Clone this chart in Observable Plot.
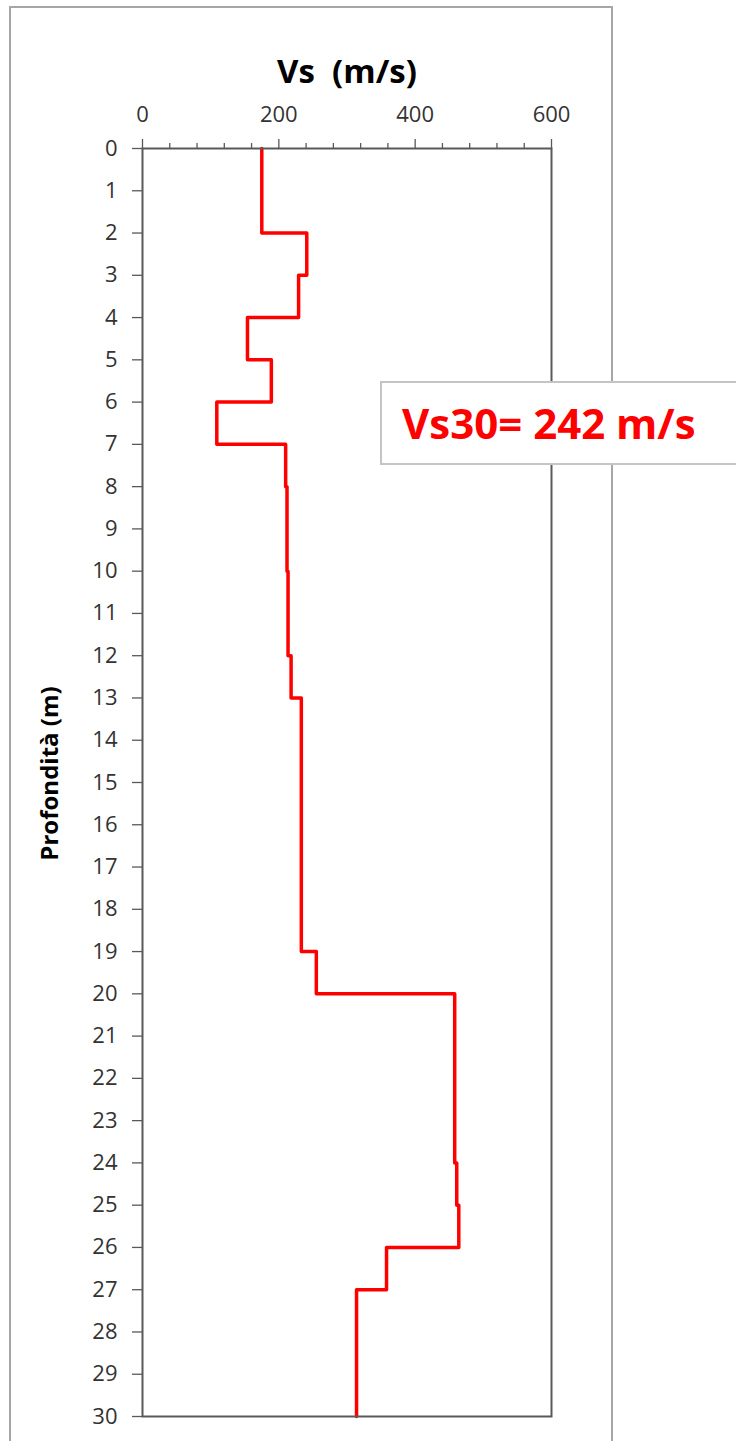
<!DOCTYPE html>
<html>
<head>
<meta charset="utf-8">
<script src="https://cdn.jsdelivr.net/npm/d3@7"></script>
<script src="https://cdn.jsdelivr.net/npm/@observablehq/plot@0.6"></script>
<style>
  html, body { margin: 0; padding: 0; background: #fff; overflow: hidden; }
  #wrap { position: relative; width: 736px; height: 1441px; overflow: hidden; }
  #outer { position: absolute; left: 9px; top: 6px; width: 600px; height: 1500px; border: 2px solid #a6a6a6; }
  #chart { position: absolute; left: 0; top: 0; }
  #box { position: absolute; left: 380px; top: 381px; width: 420px; height: 80px; border: 2px solid #c4c4c4; background: #fff;
         font-family: "Open Sans", sans-serif; font-weight: bold; font-size: 42px; line-height: 80px; color: #ff0000;
         padding-left: 20px; white-space: pre; }
</style>
</head>
<body>
<div id="wrap">
  <div id="outer"></div>
  <div id="chart"></div>
  <div id="box"></div>
</div>
<script>
// Layer tops / bottoms (m) and shear-wave velocity (m/s)
const layerTop    = [0, 2, 3, 4, 5, 6, 7, 8, 10, 12, 13, 19, 20, 24, 25, 26, 27];
const layerBottom = [2, 3, 4, 5, 6, 7, 8, 10, 12, 13, 19, 20, 24, 25, 26, 27, 30];
const layerVs     = [175, 241, 229, 154, 189, 109, 210, 212, 213.5, 218, 233, 255, 458, 461, 464, 358, 314];

const xMajorTicks = [0, 200, 400, 600];
const xMinorTicks = [40, 80, 120, 160, 240, 280, 320, 360, 440, 480, 520, 560];
const depthTicks  = [0,1,2,3,4,5,6,7,8,9,10,11,12,13,14,15,16,17,18,19,20,21,22,23,24,25,26,27,28,29,30];

const xTitle = "Vs\u00a0\u00a0(m/s)";
const yTitle = "Profondità (m)";
const vs30Label = "Vs30= 242 m/s";

const profile = [];
layerVs.forEach((v, i) => {
  profile.push({vs: v, depth: layerTop[i]});
  profile.push({vs: v, depth: layerBottom[i]});
});

const axisColor = "#595959";

const chart = Plot.plot({
  width: 620,
  height: 1441,
  marginLeft: 142,
  marginTop: 148,
  marginRight: 69,
  marginBottom: 25,
  style: { fontFamily: "'Open Sans', sans-serif", fontSize: "22px", color: "#333", background: "transparent", overflow: "visible" },
  x: { domain: [0, 600] },
  y: { domain: [0, 30], reverse: true },
  marks: [
    Plot.axisX(xMinorTicks, { anchor: "top", tickSize: 6, tickFormat: () => "", stroke: axisColor, strokeWidth: 1.3, label: null }),
    Plot.axisX(xMajorTicks, { anchor: "top", tickSize: 10, tickPadding: 17, stroke: axisColor, strokeWidth: 1.3, label: null, fill: "#333" }),
    Plot.axisY(depthTicks, { anchor: "left", tickSize: 10, tickPadding: 15, stroke: axisColor, strokeWidth: 1.3, label: null, fill: "#333" }),
    Plot.line(profile, { x: "vs", y: "depth", stroke: "#ff0000", strokeWidth: 3.5, strokeLinejoin: "round" }),
    Plot.frame({ stroke: axisColor, strokeWidth: 2 }),
    Plot.text([xTitle], { frameAnchor: "top", textAnchor: "middle", dy: -89, fontWeight: "bold", fontSize: 33, fill: "#000" }),
    Plot.text([yTitle], { frameAnchor: "left", textAnchor: "middle", dx: -92, dy: -9, rotate: -90, fontWeight: "bold", fontSize: 24, fill: "#000" })
  ]
});
document.getElementById("chart").appendChild(chart);
document.getElementById("box").textContent = vs30Label;
</script>
</body>
</html>
